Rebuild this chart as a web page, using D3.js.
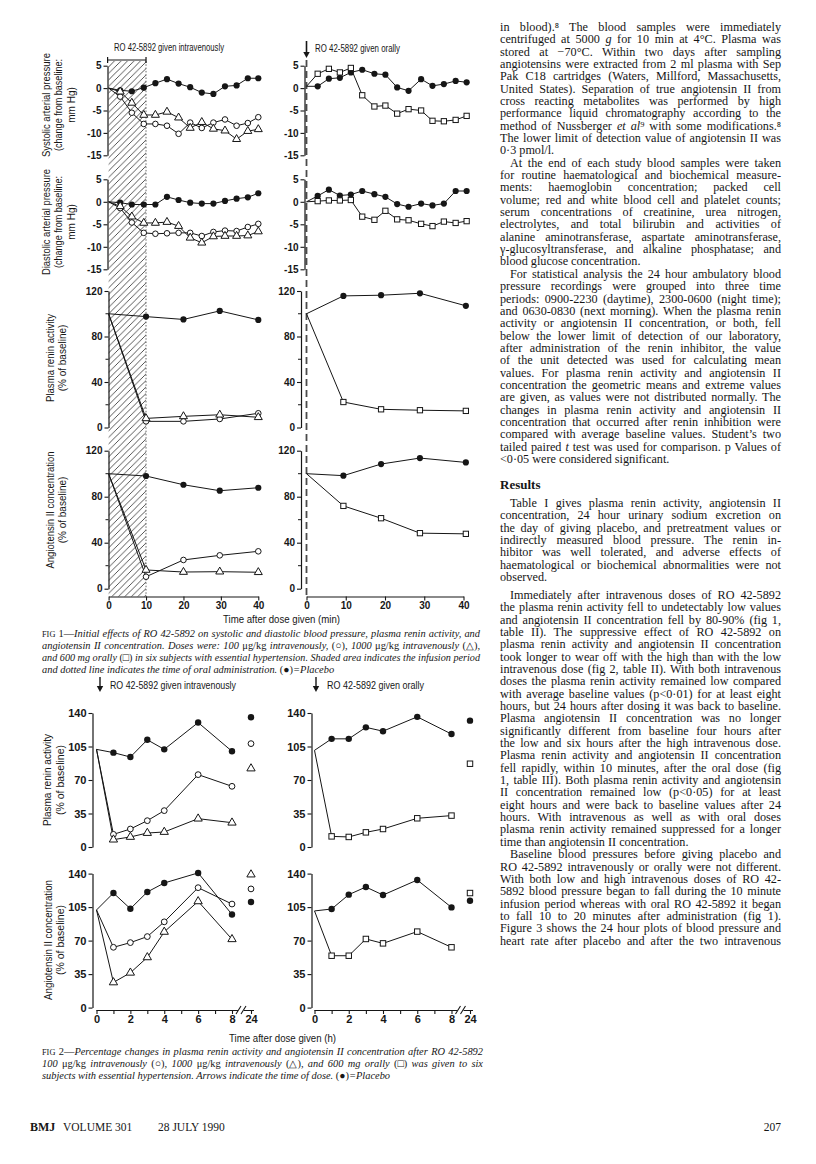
<!DOCTYPE html>
<html><head><meta charset="utf-8">
<script src="https://cdn.jsdelivr.net/npm/d3@7"></script>
<style>html,body{margin:0;padding:0;background:#fff}svg{display:block}</style>
</head><body>
<svg id="page" width="816" height="1164"></svg>
<script>
// ================= DATA =================
// Fig 1 — time points (min)
const f1TimeIV   = [0, 3.1, 6.2, 9.4, 12.5, 15.6, 18.7, 21.8, 24.9, 28.0, 31.1, 34.2, 37.2, 40.0];
const f1TimeOral = [0, 2.85, 5.7, 8.5, 11.3, 14.2, 17.3, 20.1, 23.1, 26.0, 29.2, 32.1, 35.0, 38.0, 40.8];
const f1HormTimeIV   = [0, 10, 20, 29.7, 40];
const f1HormTimeOral = [0, 9.4, 19.0, 28.9, 40.6];
// systolic change (mm Hg)
const sysIVPlacebo = [0, -0.5, -0.7, 0.1, 1.1, 2.0, 1.0, 0.2, -1.0, -1.3, 0.4, 0.6, 2.2, 2.2];
const sysIVLow     = [0, -1.9, -5.5, -8.0, -8.0, -8.4, -10.2, -7.7, -8.9, -7.7, -7.0, -8.4, -7.8, -6.5];
const sysIVHigh    = [0, -0.8, -3.3, -6.0, -6.0, -5.3, -6.6, -8.9, -7.6, -9.1, -9.5, -11.4, -9.6, -9.2];
const sysOralPlacebo = [0.4, 0.4, 2.1, 2.3, 3.5, 4.1, 3.2, 3.0, 0.15, -0.6, 2.0, 0.5, 0.9, 1.6, 1.3];
const sysOralDrug    = [0.4, 3.2, 4.3, 3.5, 4.5, -1.6, -4.1, -3.9, -5.7, -4.7, -5.0, -7.3, -7.4, -7.1, -6.2];
// diastolic change (mm Hg)
const diaIVPlacebo = [0, -0.2, -0.6, -0.6, -0.6, 1.1, 0.4, -0.2, -0.4, -0.4, 0.2, 0.7, 1.0, 1.9];
const diaIVLow     = [0, -1.4, -4.6, -6.9, -7.1, -7.0, -6.9, -6.9, -7.6, -6.7, -6.4, -6.5, -5.6, -4.9];
const diaIVHigh    = [0, -1.0, -3.3, -4.7, -4.7, -4.5, -5.4, -8.0, -9.1, -7.7, -7.6, -7.6, -7.5, -6.6];
const diaOralPlacebo = [0, 1.3, 2.7, 1.4, 1.6, 2.4, 1.7, 1.1, -0.5, -1.1, -0.4, -0.8, -0.4, 2.4, 2.4];
const diaOralDrug    = [0, 0.15, 0.3, 0.3, 0.4, -3.3, -4.0, -2.0, -3.9, -4.1, -4.9, -5.4, -4.4, -4.7, -4.3];
// plasma renin activity (% of baseline)
const reninIVPlacebo = [100, 97.5, 95, 102.5, 94.6];
const reninIVLow     = [100, 5.4, 5.4, 7.5, 12.5];
const reninIVHigh    = [100, 8, 9.8, 11.2, 9];
const reninOralPlacebo = [100, 115.7, 116.3, 118, 107];
const reninOralDrug    = [100, 22.4, 16, 15.2, 14.6];
// angiotensin II (% of baseline)
const angIVPlacebo = [100, 98, 90.4, 85.2, 87.8];
const angIVLow     = [100, 10.4, 25, 29, 32.5];
const angIVHigh    = [100, 16.3, 14.5, 14.8, 14.3];
const angOralPlacebo = [100, 98.3, 108.4, 113.6, 109.8];
const angOralDrug    = [100, 72, 61.3, 48.3, 47.7];
const f1BPTicks = [5, 0, -5, -10, -15];
const f1PctTicks = [120, 80, 40, 0];
const f1PctMinor = [100, 60, 20];
const f1TimeTicks = [0, 10, 20, 30, 40];

// Fig 2 — hours
const f2Hours = [0, 1, 2, 3, 4, 6, 8];
const f2HourTicks = [0, 1, 2, 3, 4, 5, 6, 7, 8, 24];
const f2HourLabels = [0, 2, 4, 6, 8, 24];
const f2PctTicks = [140, 105, 70, 35, 0];
const f2ReninIVPlacebo = [102, 98.6, 94, 112, 102, 130, 100];
const f2ReninIVLow     = [102, 13.2, 18.8, 27.5, 38, 75.6, 63.4];
const f2ReninIVHigh    = [102, 7.7, 10.5, 14.6, 15.7, 29.6, 25.4];
const f2ReninIVAt24    = [135.5, 108, 82];      // placebo, low, high
const f2AngIVPlacebo = [102, 119.7, 103.3, 120.8, 130.2, 140.7, 97.3];
const f2AngIVLow     = [102, 63, 67.9, 74.2, 89.6, 125.3, 108.2];
const f2AngIVHigh    = [102, 26.3, 36.4, 52.5, 79.1, 111, 71.4];
const f2AngIVAt24    = [110.3, 124, 139];       // placebo, low, high
const f2ReninOralPlacebo = [101, 113, 113, 125, 121, 136, 118];
const f2ReninOralDrug    = [101, 11.1, 10.5, 15.3, 18.8, 30, 32.8];
const f2ReninOralAt24    = [132, 87];           // placebo, drug
const f2AngOralPlacebo = [101, 103, 118, 126, 117.6, 133.3, 104.7];
const f2AngOralDrug    = [101, 54.2, 54.2, 71.7, 67.1, 79.4, 63];
const f2AngOralAt24    = [111.6, 119.7];        // placebo, drug

// Text
const fig1Caption = [
  "^FIG^ _1—_Initial effects of RO 42-5892 on systolic and diastolic blood pressure, plasma renin activity, and",
  "angiotensin II concentration. Doses were: 100 _μg/kg_ intravenously, _(○)_, 1000 _μg/kg_ intravenously _(△)_,",
  "and 600 mg orally _(□)_ in six subjects with essential hypertension. Shaded area indicates the infusion period",
  "and dotted line indicates the time of oral administration. _(●)_=Placebo"
];
const fig2Caption = [
  "^FIG^ _2—_Percentage changes in plasma renin activity and angiotensin II concentration after RO 42-5892",
  "100 _μg/kg_ intravenously _(○)_, 1000 _μg/kg_ intravenously _(△)_, and 600 mg orally _(□)_ was given to six",
  "subjects with essential hypertension. Arrows indicate the time of dose. _(●)_=Placebo"
];
// [text, indent, lastLineOfParagraph]
const bodyBlockA = [
  ["in blood).⁸ The blood samples were immediately",0,0],
  ["centrifuged at 5000 _g_ for 10 min at 4°C. Plasma was",0,0],
  ["stored at −70°C. Within two days after sampling",0,0],
  ["angiotensins were extracted from 2 ml plasma with Sep",0,0],
  ["Pak C18 cartridges (Waters, Millford, Massachusetts,",0,0],
  ["United States). Separation of true angiotensin II from",0,0],
  ["cross reacting metabolites was performed by high",0,0],
  ["performance liquid chromatography according to the",0,0],
  ["method of Nussberger _et al_⁹ with some modifications.⁸",0,0],
  ["The lower limit of detection value of angiotensin II was",0,0],
  ["0·3 pmol/l.",0,1],
  ["At the end of each study blood samples were taken",1,0],
  ["for routine haematological and biochemical measure-",0,0],
  ["ments: haemoglobin concentration; packed cell",0,0],
  ["volume; red and white blood cell and platelet counts;",0,0],
  ["serum concentrations of creatinine, urea nitrogen,",0,0],
  ["electrolytes, and total bilirubin and activities of",0,0],
  ["alanine aminotransferase, aspartate aminotransferase,",0,0],
  ["γ-glucosyltransferase, and alkaline phosphatase; and",0,0],
  ["blood glucose concentration.",0,1],
  ["For statistical analysis the 24 hour ambulatory blood",1,0],
  ["pressure recordings were grouped into three time",0,0],
  ["periods: 0900-2230 (daytime), 2300-0600 (night time);",0,0],
  ["and 0630-0830 (next morning). When the plasma renin",0,0],
  ["activity or angiotensin II concentration, or both, fell",0,0],
  ["below the lower limit of detection of our laboratory,",0,0],
  ["after administration of the renin inhibitor, the value",0,0],
  ["of the unit detected was used for calculating mean",0,0],
  ["values. For plasma renin activity and angiotensin II",0,0],
  ["concentration the geometric means and extreme values",0,0],
  ["are given, as values were not distributed normally. The",0,0],
  ["changes in plasma renin activity and angiotensin II",0,0],
  ["concentration that occurred after renin inhibition were",0,0],
  ["compared with average baseline values. Student’s two",0,0],
  ["tailed paired _t_ test was used for comparison. p Values of",0,0],
  ["<0·05 were considered significant.",0,1]
];
const bodyBlockB = [
  ["Table I gives plasma renin activity, angiotensin II",1,0],
  ["concentration, 24 hour urinary sodium excretion on",0,0],
  ["the day of giving placebo, and pretreatment values or",0,0],
  ["indirectly measured blood pressure. The renin in-",0,0],
  ["hibitor was well tolerated, and adverse effects of",0,0],
  ["haematological or biochemical abnormalities were not",0,0],
  ["observed.",0,1]
];
const bodyBlockC = [
  ["Immediately after intravenous doses of RO 42-5892",1,0],
  ["the plasma renin activity fell to undetectably low values",0,0],
  ["and angiotensin II concentration fell by 80-90% (fig 1,",0,0],
  ["table II). The suppressive effect of RO 42-5892 on",0,0],
  ["plasma renin activity and angiotensin II concentration",0,0],
  ["took longer to wear off with the high than with the low",0,0],
  ["intravenous dose (fig 2, table II). With both intravenous",0,0],
  ["doses the plasma renin activity remained low compared",0,0],
  ["with average baseline values (p<0·01) for at least eight",0,0],
  ["hours, but 24 hours after dosing it was back to baseline.",0,0],
  ["Plasma angiotensin II concentration was no longer",0,0],
  ["significantly different from baseline four hours after",0,0],
  ["the low and six hours after the high intravenous dose.",0,0],
  ["Plasma renin activity and angiotensin II concentration",0,0],
  ["fell rapidly, within 10 minutes, after the oral dose (fig",0,0],
  ["1, table III). Both plasma renin activity and angiotensin",0,0],
  ["II concentration remained low (p<0·05) for at least",0,0],
  ["eight hours and were back to baseline values after 24",0,0],
  ["hours. With intravenous as well as with oral doses",0,0],
  ["plasma renin activity remained suppressed for a longer",0,0],
  ["time than angiotensin II concentration.",0,1],
  ["Baseline blood pressures before giving placebo and",1,0],
  ["RO 42-5892 intravenously or orally were not different.",0,0],
  ["With both low and high intravenous doses of RO 42-",0,0],
  ["5892 blood pressure began to fall during the 10 minute",0,0],
  ["infusion period whereas with oral RO 42-5892 it began",0,0],
  ["to fall 10 to 20 minutes after administration (fig 1).",0,0],
  ["Figure 3 shows the 24 hour plots of blood pressure and",0,0],
  ["heart rate after placebo and after the two intravenous",0,0]
];

// ================= DRAWING =================
const svg = d3.select('#page');
const SANS = "'Liberation Sans', Arial, Helvetica, sans-serif";
const SERIF = "'Liberation Serif', 'Times New Roman', Times, serif";
const INK = '#161616';

svg.append('rect').attr('width',816).attr('height',1164).attr('fill','#fff');

const defs = svg.append('defs');
const pat = defs.append('pattern').attr('id','hatch').attr('patternUnits','userSpaceOnUse')
  .attr('width',6.5).attr('height',6.5);
pat.append('path').attr('d','M-1.5,8 L8,-1.5 M-4.75,4.75 L4.75,-4.75 M1.75,11.25 L11.25,1.75')
  .attr('stroke','#2a2a2a').attr('stroke-width',0.8).attr('fill','none');

function label(parent, txt, x, cy, size, opts={}) {
  const t = parent.append('text').attr('x', x).attr('y', cy + size*0.35)
    .attr('fill', INK).style('font-family', opts.family || SANS).style('font-size', size+'px')
    .attr('text-anchor', opts.anchor || 'start').text(txt);
  if (opts.weight) t.style('font-weight', opts.weight);
  if (opts.len) t.attr('textLength', opts.len).attr('lengthAdjust','spacingAndGlyphs');
  return t;
}
function vlabel(parent, txt, x, cy, size, len) {
  const t = parent.append('text').attr('transform', `translate(${x},${cy}) rotate(-90)`)
    .attr('y', size*0.35).attr('text-anchor','middle').attr('fill', INK)
    .style('font-family', SANS).style('font-size', size+'px').text(txt);
  if (len) t.attr('textLength', len).attr('lengthAdjust','spacingAndGlyphs');
  return t;
}

function yAxis(g, scale, x, ticks, minor, fs) {
  const a = g.append('g').attr('transform', `translate(${x},0)`)
    .call(d3.axisLeft(scale).tickValues(ticks).tickSize(4).tickSizeOuter(0).tickPadding(2).tickFormat(d => String(d)));
  a.select('.domain').attr('stroke', INK).attr('stroke-width', 1.2);
  a.selectAll('.tick line').attr('stroke', INK).attr('stroke-width', 1.1);
  a.selectAll('.tick text').attr('fill', INK).style('font-family', SANS).style('font-size', fs+'px').style('font-weight','bold');
  if (minor) a.selectAll('.mn').data(minor).enter().append('line')
      .attr('x1', -3).attr('x2', 0).attr('y1', d => scale(d)).attr('y2', d => scale(d))
      .attr('stroke', INK).attr('stroke-width', 1);
  return a;
}

function drawLine(g, xs, ys, xS, yS) {
  g.append('path').datum(ys)
    .attr('d', d3.line().x((d,i) => xS(xs[i])).y(d => yS(d)))
    .attr('fill','none').attr('stroke', INK).attr('stroke-width', 1);
}
function drawMarkers(g, pts, kind, r=3.1) {
  pts.forEach(([x,y]) => {
    if (kind === 'fill') g.append('circle').attr('cx',x).attr('cy',y).attr('r',r).attr('fill',INK);
    else if (kind === 'circle') g.append('circle').attr('cx',x).attr('cy',y).attr('r',r-0.3).attr('fill','#fff').attr('stroke',INK).attr('stroke-width',1);
    else if (kind === 'tri') g.append('path').attr('transform',`translate(${x},${y})`)
        .attr('d', d3.symbol(d3.symbolTriangle).size(r*r*2.9)).attr('fill','#fff').attr('stroke',INK).attr('stroke-width',1);
    else if (kind === 'square') g.append('rect').attr('x',x-r*0.85).attr('y',y-r*0.85).attr('width',r*1.7).attr('height',r*1.7)
        .attr('fill','#fff').attr('stroke',INK).attr('stroke-width',1);
  });
}
function seriesSet(g, list, xS, yS, r) {
  list.forEach(s => drawLine(g, s.xs, s.ys, xS, yS));
  list.forEach(s => drawMarkers(g, s.ys.map((v,i) => [xS(s.xs[i]), yS(v)]).slice(1), s.kind, r));
}
function arrow(g, x, y0, y1, w) {
  g.append('line').attr('x1',x).attr('x2',x).attr('y1',y0).attr('y2',y1-5).attr('stroke',INK).attr('stroke-width',w);
  g.append('path').attr('d',`M${x-3.2},${y1-6}L${x+3.2},${y1-6}L${x},${y1}Z`).attr('fill',INK);
}

// ---------- FIG 1 ----------
const f1 = svg.append('g');
const xL = d3.scaleLinear([0,40],[108.6,258.3]);
const xR = d3.scaleLinear([0,40],[306.5,463.5]);
const ySys = d3.scaleLinear([-15,5],[155.3,65.7]);
const yDia = d3.scaleLinear([-15,5],[269.3,179.3]);
const yRen = d3.scaleLinear([0,120],[427.5,291]);
const yAng = d3.scaleLinear([0,120],[588.7,450.7]);
const f1AxisY = 596.5;

// shaded infusion period
f1.append('rect').attr('x', xL(0)).attr('y', 61).attr('width', xL(10)-xL(0)).attr('height', f1AxisY-61).attr('fill','url(#hatch)');
f1.append('line').attr('x1',xL(10)).attr('x2',xL(10)).attr('y1',61).attr('y2',f1AxisY)
  .attr('stroke','#444').attr('stroke-width',0.8).attr('stroke-dasharray','1.5,1.8');
// infusion bracket
f1.append('path').attr('d',`M${xL(0)-1},57V63M${xL(0)-1},60H${xL(10)}M${xL(10)},57V63`).attr('stroke',INK).attr('stroke-width',1.2).attr('fill','none');
// oral dose dashed line + arrow
f1.append('line').attr('x1',xR(0)).attr('x2',xR(0)).attr('y1',60).attr('y2',f1AxisY)
  .attr('stroke','#4a4a4a').attr('stroke-width',1.8).attr('stroke-dasharray','7,4');
arrow(f1, xR(0), 41, 58, 1.6);
label(f1, 'RO 42-5892 given intravenously', 114, 47, 10, {len:110});
label(f1, 'RO 42-5892 given orally', 315, 48, 10, {len:85});

// axes
yAxis(f1, ySys, 107.5, f1BPTicks, null, 10);
yAxis(f1, yDia, 107.5, f1BPTicks, null, 10);
yAxis(f1, yRen, 108.5, f1PctTicks, f1PctMinor, 10);
yAxis(f1, yAng, 108.5, f1PctTicks, f1PctMinor, 10);
yAxis(f1, ySys, 304.5, f1BPTicks, null, 10);
yAxis(f1, yDia, 304.5, f1BPTicks, null, 10);
yAxis(f1, yRen, 301, f1PctTicks, f1PctMinor, 10);
yAxis(f1, yAng, 301, f1PctTicks, f1PctMinor, 10);
[xL, xR].forEach(xs => {
  const a = f1.append('g').attr('transform',`translate(0,${f1AxisY})`)
    .call(d3.axisBottom(xs).tickValues(f1TimeTicks).tickSize(4).tickSizeOuter(0).tickPadding(1));
  a.select('.domain').attr('stroke',INK).attr('stroke-width',1.2);
  a.selectAll('.tick line').attr('stroke',INK).attr('stroke-width',1.1);
  a.selectAll('.tick text').attr('fill',INK).style('font-family',SANS).style('font-size','10px').style('font-weight','bold');
});
label(f1, 'Time after dose given (min)', 281.5, 619, 10, {anchor:'middle', len:117});

// y titles
vlabel(f1, 'Systolic arterial pressure', 46, 105, 10, 104);
vlabel(f1, '(change from baseline:', 58.5, 105, 10, 92);
vlabel(f1, 'mm Hg)', 71, 105, 10);
vlabel(f1, 'Diastolic arterial pressure', 46, 222, 10, 106);
vlabel(f1, '(change from baseline:', 58.5, 222, 10, 92);
vlabel(f1, 'mm Hg)', 71, 222, 10);
vlabel(f1, 'Plasma renin activity', 50.5, 358, 10, 88);
vlabel(f1, '(% of baseline)', 62.5, 358, 10);
vlabel(f1, 'Angiotensin II concentration', 50.5, 510, 10, 117);
vlabel(f1, '(% of baseline)', 62.5, 510, 10);

// data
seriesSet(f1, [
  {xs:f1TimeIV, ys:sysIVPlacebo, kind:'fill'},
  {xs:f1TimeIV, ys:sysIVLow, kind:'circle'},
  {xs:f1TimeIV, ys:sysIVHigh, kind:'tri'}], xL, ySys);
seriesSet(f1, [
  {xs:f1TimeIV, ys:diaIVPlacebo, kind:'fill'},
  {xs:f1TimeIV, ys:diaIVLow, kind:'circle'},
  {xs:f1TimeIV, ys:diaIVHigh, kind:'tri'}], xL, yDia);
seriesSet(f1, [
  {xs:f1HormTimeIV, ys:reninIVPlacebo, kind:'fill'},
  {xs:f1HormTimeIV, ys:reninIVLow, kind:'circle'},
  {xs:f1HormTimeIV, ys:reninIVHigh, kind:'tri'}], xL, yRen);
seriesSet(f1, [
  {xs:f1HormTimeIV, ys:angIVPlacebo, kind:'fill'},
  {xs:f1HormTimeIV, ys:angIVLow, kind:'circle'},
  {xs:f1HormTimeIV, ys:angIVHigh, kind:'tri'}], xL, yAng);
seriesSet(f1, [
  {xs:f1TimeOral, ys:sysOralPlacebo, kind:'fill'},
  {xs:f1TimeOral, ys:sysOralDrug, kind:'square'}], xR, ySys);
seriesSet(f1, [
  {xs:f1TimeOral, ys:diaOralPlacebo, kind:'fill'},
  {xs:f1TimeOral, ys:diaOralDrug, kind:'square'}], xR, yDia);
seriesSet(f1, [
  {xs:f1HormTimeOral, ys:reninOralPlacebo, kind:'fill'},
  {xs:f1HormTimeOral, ys:reninOralDrug, kind:'square'}], xR, yRen);
seriesSet(f1, [
  {xs:f1HormTimeOral, ys:angOralPlacebo, kind:'fill'},
  {xs:f1HormTimeOral, ys:angOralDrug, kind:'square'}], xR, yAng);

// ---------- FIG 2 ----------
const f2 = svg.append('g');
const x2L = d3.scaleLinear([0,8,24],[96.5,232,251]);
const x2R = d3.scaleLinear([0,8,24],[314.5,451.5,470]);
const y2Ren = d3.scaleLinear([0,140],[847,713]);
const y2Ang = d3.scaleLinear([0,140],[1007.6,873.6]);
const f2AxisY = 1010;

arrow(f2, 100, 677, 692, 1.4);
arrow(f2, 316, 677, 692, 1.4);
label(f2, 'RO 42-5892 given intravenously', 110, 685, 10.5, {len:126});
label(f2, 'RO 42-5892 given orally', 327, 685, 10.5, {len:97});

yAxis(f2, y2Ren, 92.5, f2PctTicks, null, 11);
yAxis(f2, y2Ang, 92.5, f2PctTicks, null, 11);
yAxis(f2, y2Ren, 311.5, f2PctTicks, null, 11);
yAxis(f2, y2Ang, 311.5, f2PctTicks, null, 11);
[x2L, x2R].forEach(xs => {
  const a = f2.append('g').attr('transform',`translate(0,${f2AxisY})`)
    .call(d3.axisBottom(xs).tickValues(f2HourTicks).tickSize(4).tickSizeOuter(0).tickPadding(1)
      .tickFormat(d => f2HourLabels.includes(d) ? String(d) : ''));
  a.select('.domain').remove();
  a.selectAll('.tick line').attr('stroke',INK).attr('stroke-width',1.1);
  a.selectAll('.tick text').attr('fill',INK).style('font-family',SANS).style('font-size','11px').style('font-weight','bold');
  const b = xs(8);
  a.append('path').attr('d',`M${xs(0)},0.5H${b+6}M${b+12},0.5H${xs(24)+3}`).attr('stroke',INK).attr('stroke-width',1.2).attr('fill','none');
  a.append('path').attr('d',`M${b+4},4L${b+9},-4M${b+9},4L${b+14},-4`).attr('stroke',INK).attr('stroke-width',1.1).attr('fill','none');
});
label(f2, 'Time after dose given (h)', 282.5, 1038, 10, {anchor:'middle', len:107});

vlabel(f2, 'Plasma renin activity', 47, 780, 10.5, 92);
vlabel(f2, '(% of baseline)', 60.5, 780, 10.5);
vlabel(f2, 'Angiotensin II concentration', 48, 940, 10.5, 120);
vlabel(f2, '(% of baseline)', 60.5, 940, 10.5);

seriesSet(f2, [
  {xs:f2Hours, ys:f2ReninIVPlacebo, kind:'fill'},
  {xs:f2Hours, ys:f2ReninIVLow, kind:'circle'},
  {xs:f2Hours, ys:f2ReninIVHigh, kind:'tri'}], x2L, y2Ren, 3.2);
seriesSet(f2, [
  {xs:f2Hours, ys:f2AngIVPlacebo, kind:'fill'},
  {xs:f2Hours, ys:f2AngIVLow, kind:'circle'},
  {xs:f2Hours, ys:f2AngIVHigh, kind:'tri'}], x2L, y2Ang, 3.2);
seriesSet(f2, [
  {xs:f2Hours, ys:f2ReninOralPlacebo, kind:'fill'},
  {xs:f2Hours, ys:f2ReninOralDrug, kind:'square'}], x2R, y2Ren, 3.2);
seriesSet(f2, [
  {xs:f2Hours, ys:f2AngOralPlacebo, kind:'fill'},
  {xs:f2Hours, ys:f2AngOralDrug, kind:'square'}], x2R, y2Ang, 3.2);
// 24 h values
const kindsIV = ['fill','circle','tri'], kindsOral = ['fill','square'];
f2ReninIVAt24.forEach((v,i) => drawMarkers(f2, [[x2L(24), y2Ren(v)]], kindsIV[i], 3.2));
f2AngIVAt24.forEach((v,i) => drawMarkers(f2, [[x2L(24), y2Ang(v)]], kindsIV[i], 3.2));
f2ReninOralAt24.forEach((v,i) => drawMarkers(f2, [[x2R(24), y2Ren(v)]], kindsOral[i], 3.2));
f2AngOralAt24.forEach((v,i) => drawMarkers(f2, [[x2R(24), y2Ang(v)]], kindsOral[i], 3.2));

// ---------- TEXT ----------
const tg = svg.append('g');
function richLine(parent, str, x0, x1, cy, size, baseItalic, justify) {
  const t = parent.append('text').attr('x', x0).attr('y', cy + size*0.33).attr('fill', INK)
    .style('font-family', SERIF).style('font-size', size+'px');
  const toks = str.split(/(_[^_]*_|\^[^^]*\^)/).filter(s => s.length);
  toks.forEach(tok => {
    const sp = t.append('tspan');
    if (tok[0] === '_') sp.text(tok.slice(1,-1)).style('font-style', baseItalic ? 'normal' : 'italic');
    else if (tok[0] === '^') sp.text(tok.slice(1,-1)).style('font-style','normal').style('font-size', (size*0.8)+'px');
    else sp.text(tok).style('font-style', baseItalic ? 'italic' : 'normal');
  });
  if (justify) {
    const w = t.node().getComputedTextLength();
    const plain = toks.map(s => (s[0]==='_'||s[0]==='^') ? s.slice(1,-1) : s).join('');
    const gaps = (plain.trim().match(/ /g) || []).length;
    const target = x1 - x0;
    if (w > target) t.attr('textLength', target).attr('lengthAdjust','spacingAndGlyphs');
    else if (gaps) t.style('word-spacing', ((target - w)/gaps) + 'px');
  }
  return t;
}
function block(lines, y0, step) {
  lines.forEach((l,i) => {
    const x0 = 500 + (l[1] ? 10 : 0);
    richLine(tg, l[0], x0, 781, y0 + i*step, 12.2, false, !l[2]);
  });
}
const LS = 12.34;
block(bodyBlockA, 27, LS);
tg.append('text').attr('x',500).attr('y',485+4.3).attr('fill',INK).style('font-family',SERIF)
  .style('font-size','13px').style('font-weight','bold').text('Results');
block(bodyBlockB, 503, LS);
block(bodyBlockC, 595, LS);

fig1Caption.forEach((l,i) => richLine(tg, l, 42, 480, 634 + i*12, 10.4, true, i < 3));
fig2Caption.forEach((l,i) => richLine(tg, l, 42, 483, 1052 + i*12, 10.4, true, i < 2));

// footer
const fy = 1127 + 4;
tg.append('text').attr('x',30).attr('y',fy).attr('fill',INK).style('font-family',SERIF).style('font-size','12px').style('font-weight','bold').text('BMJ');
tg.append('text').attr('x',63).attr('y',fy).attr('fill',INK).style('font-family',SERIF).style('font-size','11.5px').text('VOLUME 301');
tg.append('text').attr('x',158).attr('y',fy).attr('fill',INK).style('font-family',SERIF).style('font-size','11.5px').text('28 JULY 1990');
tg.append('text').attr('x',781).attr('y',fy).attr('text-anchor','end').attr('fill',INK).style('font-family',SERIF).style('font-size','11.5px').text('207');
</script>
</body></html>
